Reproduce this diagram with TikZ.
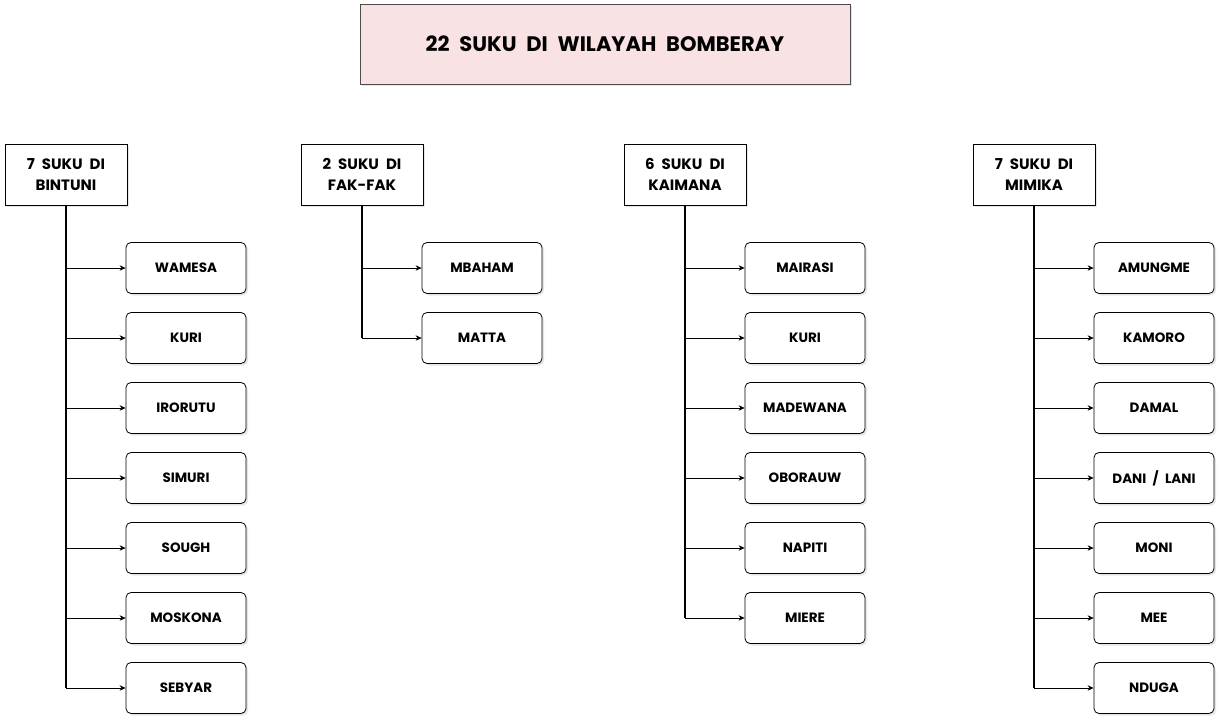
\documentclass[tikz,border=0pt]{standalone}
\usepackage{fontspec}
\setsansfont{Poppins}[WordSpace=2.2]
\usepackage{tikz}
\usetikzlibrary{positioning}
\usetikzlibrary{shadows}
\usetikzlibrary{arrows.meta}
\definecolor{titelrosa}{RGB}{248,226,228}
\tikzset{
  Titel/.style={draw=black!70, fill=titelrosa, minimum width=490pt, minimum height=80pt,
    font=\sffamily\bfseries\fontsize{21}{23}\selectfont,
    drop shadow={opacity=.2, shadow xshift=2pt, shadow yshift=-2pt}}, % Überschrift
  Gruppe/.style={draw, thick, fill=white, minimum width=122pt, minimum height=61pt, align=center,
    font=\sffamily\bfseries\fontsize{15}{21}\selectfont,
    drop shadow={opacity=.2, shadow xshift=2pt, shadow yshift=-2pt}}, % Kabupaten
  Suku/.style={draw, thick, rounded corners=5pt, fill=white, minimum width=120pt, minimum height=51pt,
    font=\sffamily\bfseries\fontsize{13.5}{16}\selectfont,
    drop shadow={opacity=.2, shadow xshift=2pt, shadow yshift=-2pt}}, % Suku
  Stamm/.style={line width=1.6pt}, % senkrechte Linie
  Ast/.style={thick, -{Stealth[length=6pt,width=5.5pt]}} % Abzweig mit Pfeil
}

\begin{document}
\begin{tikzpicture}[x=1pt, y=-1pt]
\useasboundingbox (0,0) rectangle (1221,722);

%Überschrift
\node[Titel] (titel) at (605,44) {22 SUKU DI WILAYAH BOMBERAY};

%Kabupaten
\node[Gruppe] (bintuni) at (66,174.5) {7 SUKU DI\\BINTUNI};
\node[Gruppe] (fakfak) at (362,174.5) {2 SUKU DI\\FAK-FAK};
\node[Gruppe] (kaimana) at (685,174.5) {6 SUKU DI\\KAIMANA};
\node[Gruppe] (mimika) at (1034,174.5) {7 SUKU DI\\MIMIKA};

%Suku und Verbindungen
\foreach \g/\liste in {%
  bintuni/{WAMESA,KURI,IRORUTU,SIMURI,SOUGH,MOSKONA,SEBYAR},
  fakfak/{MBAHAM,MATTA},
  kaimana/{MAIRASI,KURI,MADEWANA,OBORAUW,NAPITI,MIERE},
  mimika/{AMUNGME,KAMORO,DAMAL,DANI / LANI,MONI,MEE,NDUGA}}
 \foreach \s [count=\i] in \liste {%
  \node[Suku] (\g-\i) at ([xshift=120pt, yshift={-(23.5pt+70pt*\i)}]\g.center) {\s};
  \draw[Stamm] (\g.south) -- (\g.south |- \g-\i.center);
  \draw[Ast] (\g.south |- \g-\i.center) -- (\g-\i.west);
 };

\end{tikzpicture}
\end{document}
